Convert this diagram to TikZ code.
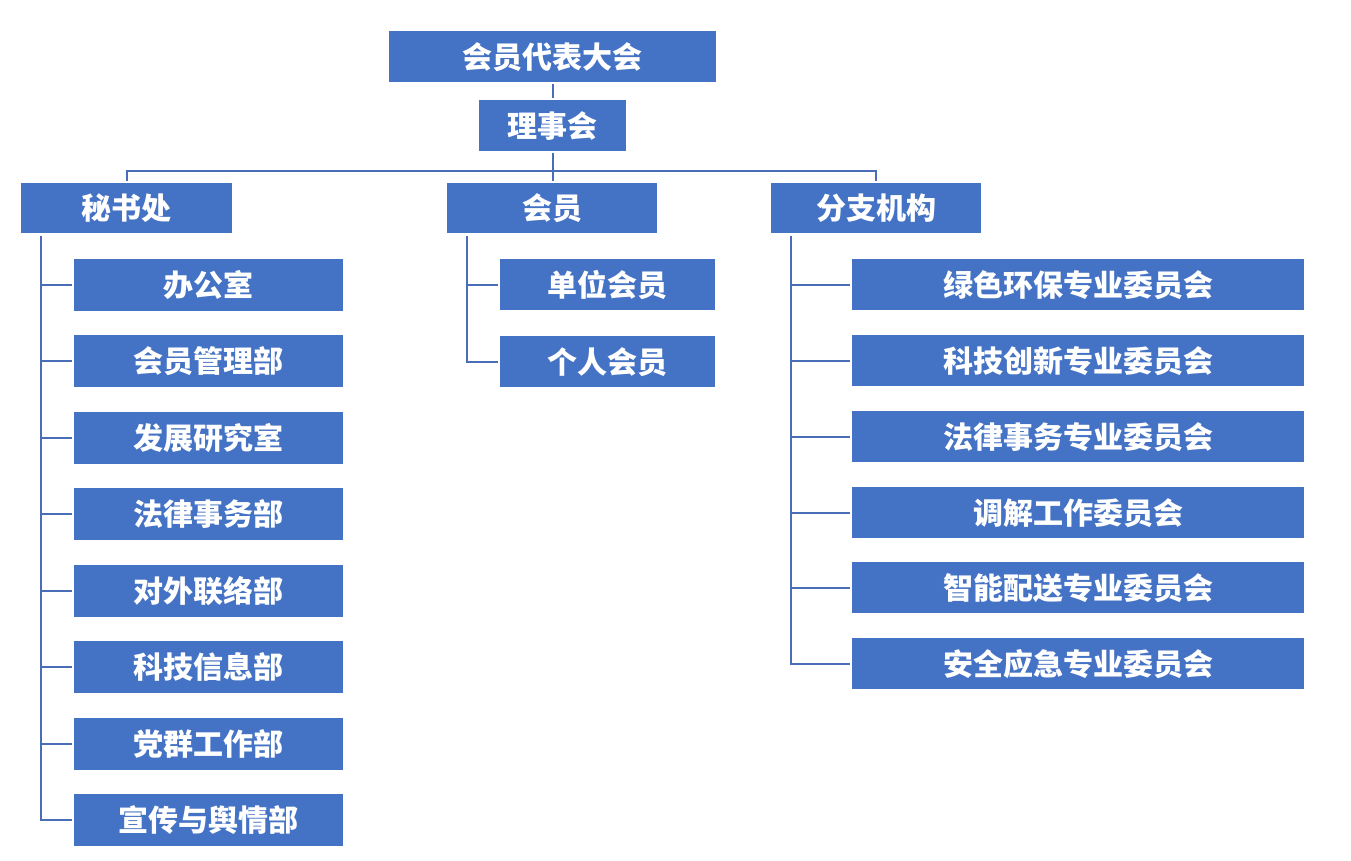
\documentclass[tikz,border=0pt]{standalone}
\usepackage{fontspec}
\setmainfont{Noto Sans CJK SC}
\definecolor{boxblue}{HTML}{4472C4}
\definecolor{lineblue}{HTML}{4A6DB8}
\begin{document}
\begin{tikzpicture}[x=1pt,y=-1pt,
  box/.style={fill=boxblue,draw=none,inner sep=0pt,anchor=north west,text=white,font=\fontsize{30}{32}\selectfont\bfseries},
  conn/.style={draw=lineblue,line width=2pt}]
\useasboundingbox (0,0) rectangle (1351,860);
\fill[white] (0,0) rectangle (1351,860);
% top
\node[box,minimum width=327pt,minimum height=51pt] (dbdh) at (389,31) {会员代表大会};
\node[box,minimum width=147pt,minimum height=51pt] (lsh) at (479,100) {理事会};
\node[box,minimum width=211pt,minimum height=50pt] (msc) at (21,183) {秘书处};
\node[box,minimum width=210pt,minimum height=50pt] (hy) at (447,183) {会员};
\node[box,minimum width=210pt,minimum height=50pt] (fz) at (771,183) {分支机构};
% left children
\foreach \i/\y/\t in {1/259/办公室,2/335/会员管理部,3/412/发展研究室,4/488/法律事务部,5/565/对外联络部,6/641/科技信息部,7/718/党群工作部,8/794/宣传与舆情部}{
  \node[box,minimum width=269pt,minimum height=52pt] (l\i) at (74,\y) {\t};
}
% middle children
\node[box,minimum width=215pt,minimum height=51pt] (m1) at (500,259) {单位会员};
\node[box,minimum width=215pt,minimum height=51pt] (m2) at (500,336) {个人会员};
% right children
\foreach \i/\y/\t in {1/259/绿色环保专业委员会,2/335/科技创新专业委员会,3/411/法律事务专业委员会,4/487/调解工作委员会,5/562/智能配送专业委员会,6/638/安全应急专业委员会}{
  \node[box,minimum width=452pt,minimum height=51pt] (r\i) at (852,\y) {\t};
}
% connectors
\draw[conn] ([yshift=-2pt]dbdh.south) -- ([yshift=2pt]dbdh.south |- lsh.north);
\coordinate (bus) at (552,171);
\draw[conn] ([yshift=-2pt]lsh.south) -- ([yshift=2pt]lsh.south |- hy.north);
\draw[conn] ([yshift=2pt]msc.north) |- (bus) -| ([yshift=2pt]fz.north);
\coordinate (lsp) at (41,236);
\coordinate (msp) at (467,236);
\coordinate (rsp) at (791,236);
\foreach \i in {1,...,8}{\draw[conn] (lsp) |- ([xshift=-2pt]l\i.west);}
\foreach \i in {1,2}{\draw[conn] (msp) |- ([xshift=-2pt]m\i.west);}
\foreach \i in {1,...,6}{\draw[conn] (rsp) |- ([xshift=-2pt]r\i.west);}
\end{tikzpicture}
\end{document}
